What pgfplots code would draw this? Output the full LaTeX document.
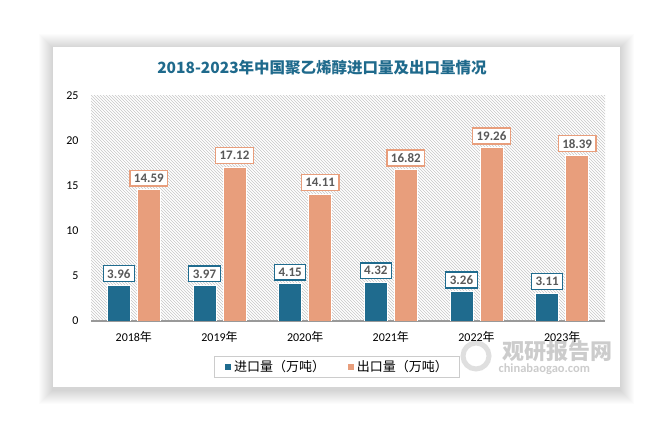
\documentclass[border=0pt]{standalone}
\usepackage{fontspec}
\setmainfont{Carlito}
\newfontfamily\cjk{Noto Sans CJK SC}
\usepackage{pgfplots}
\pgfplotsset{compat=1.18}
\usetikzlibrary{patterns}

\definecolor{imp}{HTML}{1F6B8E}
\definecolor{expc}{HTML}{E89E7C}
\definecolor{ttl}{HTML}{1F6A8C}
\definecolor{lbl}{HTML}{595959}

\begin{document}
\begin{tikzpicture}[x=1pt,y=1pt]
\path[use as bounding box] (0,0) rectangle (670,436);
% card with soft shadow
\foreach \i in {1,...,14} {
  \fill[black,opacity=0.010] (53-\i,49-\i-3) rectangle (620+\i,389+\i-1);
}
\fill[white] (53,49) rectangle (620,389);

\node[font=\cjk\bfseries\fontsize{15.5}{18}\selectfont, text=ttl] at (322,368)
  {2018-2023年中国聚乙烯醇进口量及出口量情况};

% watermark
\draw[gray!25, line width=5pt] (476,80) circle (13);
\node[text=gray!40, font=\cjk\bfseries\fontsize{22}{24}\selectfont, anchor=west] at (499,85) {观研报告网};
\node[text=gray!40, font=\bfseries\fontsize{12.5}{14}\selectfont, anchor=west] at (495,67) {chinabaogao.com};

\begin{axis}[
  at={(91pt,115pt)}, anchor=south west,
  scale only axis, width=514pt, height=225pt,
  ybar=7pt, bar width=23pt,
  xmin=-0.5, xmax=5.5, ymin=0, ymax=25,
  xtick={0,...,5},
  xticklabels={2018{\cjk 年},2019{\cjk 年},2020{\cjk 年},2021{\cjk 年},2022{\cjk 年},2023{\cjk 年}},
  ytick={0,5,...,25},
  /pgf/number format/assume math mode=true,
  axis x line*=bottom, axis y line*=left,
  y axis line style={draw=none},
  x axis line style={draw=black!40, line width=1.3pt},
  tick style={draw=none},
  tick label style={font=\fontsize{12}{14}\selectfont, text=black},
  xticklabel style={yshift=-3pt},
  yticklabel style={xshift=-9pt},
  axis background/.style={pattern=north west lines, pattern color=black!22},
  nodes near coords={\pgfmathprintnumber[fixed,fixed zerofill,precision=2]{\pgfplotspointmeta}},
  nodes near coords style={fill=white, text=lbl, font=\bfseries\fontsize{13}{15}\selectfont,
    inner xsep=4pt, inner ysep=3.5pt, line width=1.2pt, anchor=south, yshift=3pt},
  legend style={at={(0.4786,-0.2044)}, anchor=center, legend columns=2,
    draw=black!20, line width=0.8pt, font=\cjk\fontsize{13}{15}\selectfont,
    inner xsep=10pt, inner ysep=2pt,
    /tikz/every even column/.append style={column sep=20pt}},
  legend image code/.code={\fill[#1] (0pt,-3.5pt) rectangle (7pt,3.5pt);},
]
\addplot[fill=imp, draw=white, line width=0.8pt, every node near coord/.append style={draw=imp}]
  coordinates {(0,3.96)(1,3.97)(2,4.15)(3,4.32)(4,3.26)(5,3.11)};
\addplot[fill=expc, draw=white, line width=0.8pt, every node near coord/.append style={draw=expc}]
  coordinates {(0,14.59)(1,17.12)(2,14.11)(3,16.82)(4,19.26)(5,18.39)};
\legend{进口量（万吨）,出口量（万吨）}
\end{axis}
\end{tikzpicture}
\end{document}
